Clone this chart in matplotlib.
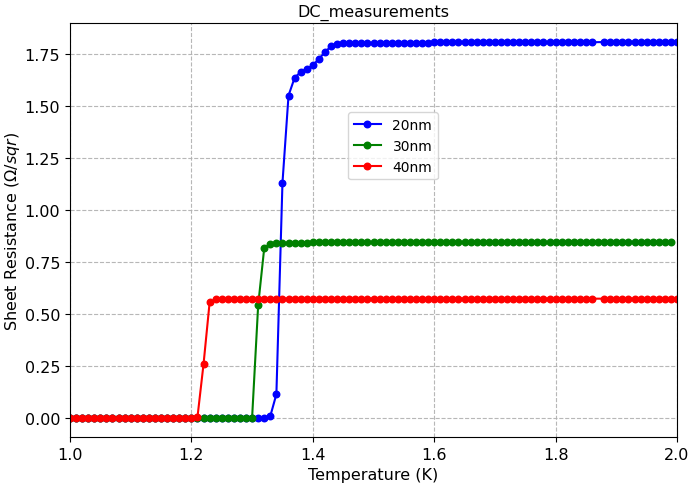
import matplotlib
matplotlib.use("Agg")
import matplotlib.pyplot as plt
import numpy as np

# temperature grid (K)
temps = [1.00, 1.01, 1.02, 1.03, 1.04, 1.05, 1.06, 1.07, 1.08, 1.09,
         1.10, 1.11, 1.12, 1.13, 1.14, 1.15, 1.16, 1.17, 1.18, 1.19,
         1.20, 1.21, 1.22, 1.23, 1.24, 1.25, 1.26, 1.27, 1.28, 1.29,
         1.30, 1.31, 1.32, 1.33, 1.34, 1.35, 1.36, 1.37, 1.38, 1.39,
         1.40, 1.41, 1.42, 1.43, 1.44, 1.45, 1.46, 1.47, 1.48, 1.49,
         1.50, 1.51, 1.52, 1.53, 1.54, 1.55, 1.56, 1.57, 1.58, 1.59,
         1.60, 1.61, 1.62, 1.63, 1.64, 1.65, 1.66, 1.67, 1.68, 1.69,
         1.70, 1.71, 1.72, 1.73, 1.74, 1.75, 1.76, 1.77, 1.78, 1.79,
         1.80, 1.81, 1.82, 1.83, 1.84, 1.85, 1.86, 1.87, 1.88, 1.89,
         1.90, 1.91, 1.92, 1.93, 1.94, 1.95, 1.96, 1.97, 1.98, 1.99,
         2.00]

nan = float("nan")  # missing sample

r_20nm = [0.0, 0.0, 0.0, 0.0, 0.0, 0.0, 0.0, 0.0, 0.0, 0.0,
          0.0, 0.0, 0.0, 0.0, 0.0, 0.0, 0.0, 0.0, 0.0, 0.0,
          0.0, 0.0, 0.0, 0.0, 0.0, 0.0, 0.0, 0.0, 0.0, 0.0,
          0.0, 0.0, 0.003, 0.01, 0.115, 1.13, 1.55, 1.635, 1.663, 1.678,
          1.695, 1.726, 1.758, 1.787, 1.798, 1.800, 1.801, 1.801, 1.802, 1.802,
          1.802, 1.803, 1.803, 1.803, 1.803, 1.804, 1.804, 1.804, 1.804, 1.804,
          1.805, 1.805, 1.805, 1.805, 1.805, 1.805, 1.806, 1.806, 1.806, 1.806,
          1.806, 1.806, 1.806, 1.807, 1.807, 1.807, 1.807, 1.807, 1.807, 1.807,
          1.807, 1.808, 1.808, 1.808, 1.808, 1.808, 1.806, nan, 1.807, 1.807,
          1.807, 1.807, 1.808, 1.808, 1.808, 1.808, 1.808, 1.808, 1.808, 1.808,
          1.808]

r_30nm = [0.0, 0.0, 0.0, 0.0, 0.0, 0.0, 0.0, 0.0, 0.0, 0.0,
          0.0, 0.0, 0.0, 0.0, 0.0, 0.0, 0.0, 0.0, 0.0, 0.0,
          0.0, 0.0, 0.0, 0.0, 0.0, 0.0, 0.0, 0.0, 0.0, 0.0,
          0.002, 0.543, 0.818, 0.837, 0.840, 0.842, 0.842, 0.843, 0.843, 0.843,
          0.844, 0.844, 0.844, 0.844, 0.844, 0.845, 0.845, 0.845, 0.845, 0.845,
          0.845, 0.845, 0.845, 0.845, 0.846, 0.846, 0.846, 0.846, 0.846, 0.846,
          0.846, 0.846, 0.846, 0.846, 0.846, 0.846, 0.846, 0.846, 0.846, 0.846,
          0.846, 0.846, 0.846, 0.846, 0.846, 0.846, 0.846, 0.846, 0.846, 0.846,
          0.846, 0.846, 0.846, 0.846, 0.846, 0.846, 0.846, 0.846, 0.846, 0.846,
          0.846, 0.846, 0.846, 0.846, 0.846, 0.846, 0.846, 0.846, 0.846, 0.846,
          nan]

r_40nm = [0.0, 0.0, 0.0, 0.0, 0.0, 0.0, 0.0, 0.0, 0.0, 0.0,
          0.0, 0.0, 0.0, 0.0, 0.0, 0.0, 0.0, 0.0, 0.0, 0.0,
          0.0, 0.005, 0.26, 0.556, 0.570, 0.572, 0.573, 0.573, 0.573, 0.573,
          0.574, 0.574, 0.574, 0.574, 0.574, 0.574, 0.574, 0.574, 0.574, 0.574,
          0.574, 0.574, 0.574, 0.574, 0.574, 0.574, 0.574, 0.574, 0.574, 0.574,
          0.574, 0.574, 0.574, 0.574, 0.574, 0.574, 0.574, 0.574, 0.574, 0.574,
          0.574, 0.574, 0.574, 0.574, 0.574, 0.574, 0.574, 0.574, 0.574, 0.574,
          0.574, 0.574, 0.574, 0.574, 0.574, 0.574, 0.574, 0.574, 0.574, 0.574,
          0.574, 0.574, 0.574, 0.574, 0.574, 0.574, 0.574, nan, 0.574, 0.574,
          0.574, 0.574, 0.574, 0.574, 0.574, 0.574, 0.574, 0.574, 0.574, 0.574,
          0.574]

labels = ["20nm", "30nm", "40nm"]
colors = ["blue", "green", "red"]

fig = plt.figure(figsize=(6.89, 4.85), dpi=100)
ax = fig.add_axes([0.1016, 0.097, 0.881, 0.8535])

t = np.array(temps)
for vals, lab, col in zip([r_20nm, r_30nm, r_40nm], labels, colors):
    v = np.array(vals)
    ok = ~np.isnan(v)  # skip missing samples but keep the line joined
    ax.plot(t[ok], v[ok], "o-", color=col, label=lab, markersize=4.7, linewidth=1.5)

ax.set_xlim(1.0, 2.0)
ax.set_xticks([1.0, 1.2, 1.4, 1.6, 1.8, 2.0])
ax.set_yticks([0.0, 0.25, 0.5, 0.75, 1.0, 1.25, 1.5, 1.75])
ax.tick_params(labelsize=11.5)
ax.grid(True, linestyle="--", color="#b0b0b0", alpha=0.9)
ax.set_title("DC_measurements", fontsize=11.5, pad=5)
ax.set_xlabel("Temperature (K)", fontsize=11.5)
ax.set_ylabel("Sheet Resistance (Ω/$sqr$)", fontsize=11.5, labelpad=2)
ax.legend(loc="upper left", bbox_to_anchor=(0.458, 0.784), borderaxespad=0, fontsize=10)

fig.savefig("out.png", dpi=100)
